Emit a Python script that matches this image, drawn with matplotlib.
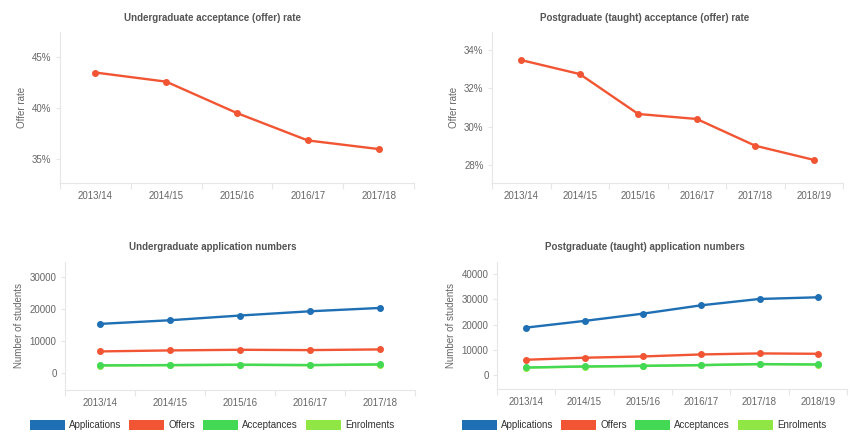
import matplotlib
matplotlib.use("Agg")
import matplotlib.pyplot as plt
from matplotlib.patches import Patch
from matplotlib.ticker import FuncFormatter

plt.rcParams['font.family'] = ['Liberation Sans', 'DejaVu Sans']

ug_years = ["2013/14", "2014/15", "2015/16", "2016/17", "2017/18"]
pg_years = ["2013/14", "2014/15", "2015/16", "2016/17", "2017/18", "2018/19"]

ug_rate = [43.5, 42.6, 39.5, 36.8, 35.95]
pg_rate = [33.48, 32.75, 30.66, 30.4, 29.0, 28.26]

ug_apps = [15360, 16500, 17970, 19300, 20340]
ug_offers = [6760, 7070, 7270, 7170, 7380]
ug_accept = [2400, 2500, 2600, 2500, 2700]
ug_enrol = [2350, 2450, 2550, 2450, 2650]

pg_apps = [18900, 21540, 24400, 27700, 30200, 30860]
pg_offers = [6200, 7000, 7500, 8300, 8700, 8550]
pg_accept = [3150, 3550, 3800, 4100, 4500, 4350]
pg_enrol = [3100, 3500, 3750, 4050, 4450, 4300]

series_names = ["Applications", "Offers", "Acceptances", "Enrolments"]
C_BLUE = "#1f6fb4"
C_RED = "#f25533"
C_GREEN = "#44d955"
C_LGREEN = "#8fe645"
series_colors = [C_BLUE, C_RED, C_GREEN, C_LGREEN]

W, H = 851, 442
fig = plt.figure(figsize=(W / 100, H / 100), dpi=100)

def add_ax(l, r, t, b):
    return fig.add_axes([l / W, (H - b) / H, (r - l) / W, (b - t) / H])

AX_COL = "#e6e6e6"
TXT = "#666666"

def style(ax, cats, title, ylabel, tx, ty):
    n = len(cats)
    ax.set_xlim(-0.5, n - 0.5)
    ax.set_xticks(range(n))
    ax.set_xticklabels(cats)
    ax.set_xticks([i - 0.5 for i in range(n + 1)], minor=True)
    for s in ["top", "right"]:
        ax.spines[s].set_visible(False)
    for s in ["left", "bottom"]:
        ax.spines[s].set_color(AX_COL)
        ax.spines[s].set_linewidth(0.8)
    ax.tick_params(axis="x", which="major", length=0, labelsize=7, labelcolor=TXT, pad=6)
    ax.tick_params(axis="x", which="minor", length=4, color=AX_COL, width=0.8)
    ax.tick_params(axis="y", length=3, color=AX_COL, width=0.8, labelsize=7, labelcolor=TXT, pad=3)
    fig.text(tx / W, (H - ty) / H, title, fontsize=7, fontweight="bold", color="#555555",
             ha="center", va="center")
    ax.set_ylabel(ylabel, fontsize=7, color=TXT, labelpad=4)

pct = FuncFormatter(lambda v, p: f"{v:.0f}%")

# Top-left
ax1 = add_ax(60, 414, 32, 183)
ax1.plot(range(len(ug_years)), ug_rate, color=C_RED, lw=1.7, marker="o", ms=4)
ax1.set_ylim(32.6, 47.5)
ax1.set_yticks([35, 40, 45])
ax1.yaxis.set_major_formatter(pct)
style(ax1, ug_years, "Undergraduate acceptance (offer) rate", "Offer rate", 213, 18)

# Top-right
ax2 = add_ax(492, 843, 32, 183)
ax2.plot(range(len(pg_years)), pg_rate, color=C_RED, lw=1.7, marker="o", ms=4)
ax2.set_ylim(27.05, 34.95)
ax2.set_yticks([28, 30, 32, 34])
ax2.yaxis.set_major_formatter(pct)
style(ax2, pg_years, "Postgraduate (taught) acceptance (offer) rate", "Offer rate", 645, 18)

# Bottom-left
ax3 = add_ax(65, 415, 262, 390)
x = range(len(ug_years))
for vals, col in zip([ug_apps, ug_offers, ug_enrol, ug_accept],
                     [C_BLUE, C_RED, C_LGREEN, C_GREEN]):
    ax3.plot(x, vals, color=col, lw=1.7, marker="o", ms=4)
ax3.set_ylim(-5300, 34700)
ax3.set_yticks([0, 10000, 20000, 30000])
style(ax3, ug_years, "Undergraduate application numbers", "Number of students", 213, 247)

# Bottom-right
ax4 = add_ax(497, 847, 262, 389)
x = range(len(pg_years))
for vals, col in zip([pg_apps, pg_offers, pg_enrol, pg_accept],
                     [C_BLUE, C_RED, C_LGREEN, C_GREEN]):
    ax4.plot(x, vals, color=col, lw=1.7, marker="o", ms=4)
ax4.set_ylim(-5350, 44800)
ax4.set_yticks([0, 10000, 20000, 30000, 40000])
style(ax4, pg_years, "Postgraduate (taught) application numbers", "Number of students", 645, 247)

handles = [Patch(facecolor=c, edgecolor="none", label=n) for n, c in zip(series_names, series_colors)]
for cx in (212, 644):
    leg = fig.legend(handles=handles, loc="center", bbox_to_anchor=(cx / W, (H - 425) / H),
                     ncol=4, frameon=False, fontsize=7, handlelength=3.6, handleheight=1.25,
                     handletextpad=0.45, columnspacing=0.8, borderpad=0)
    for t in leg.get_texts():
        t.set_color("#333333")

fig.savefig("out.png", dpi=100)
